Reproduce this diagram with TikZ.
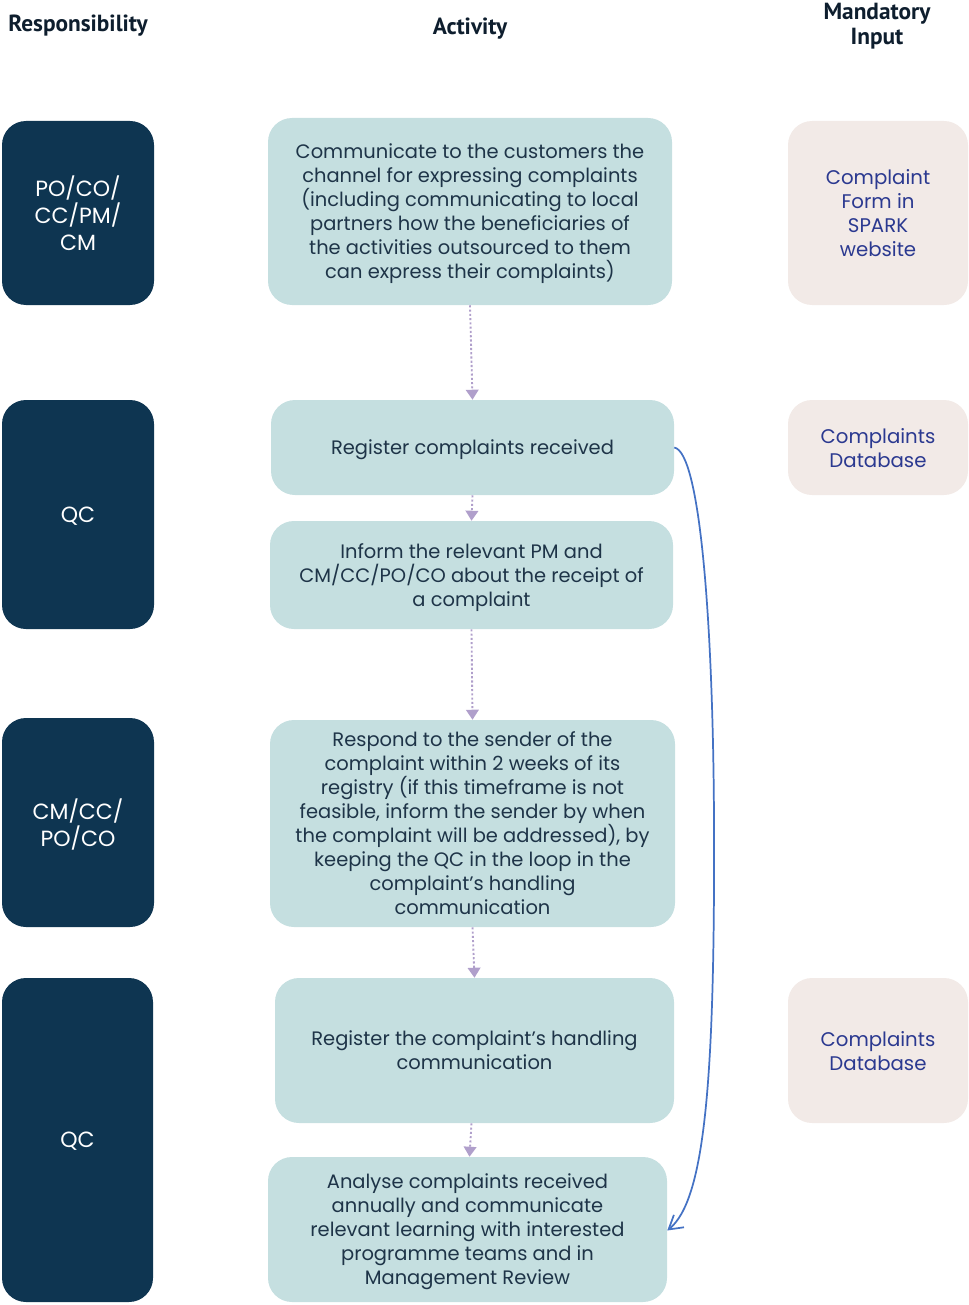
\documentclass[tikz,border=0pt]{standalone}
\usepackage{fontspec}
\setmainfont{Poppins}
\newfontfamily\headfont{PT Sans}
\usetikzlibrary{arrows.meta}
\definecolor{navy}{HTML}{0E3551}
\definecolor{teal}{HTML}{C5DFE0}
\definecolor{beige}{HTML}{F2EAE7}
\definecolor{midtext}{HTML}{1E3448}
\definecolor{headtext}{HTML}{0E1E2E}
\definecolor{righttext}{HTML}{2B3990}
\definecolor{dotarrow}{HTML}{B09FCB}
\definecolor{curveblue}{HTML}{4472C4}
\tikzset{
  rolebox/.style={rectangle, rounded corners=18pt, fill=navy, draw=none, text=white, align=center, text depth=0pt, font=\fontsize{16.5}{20}\selectfont},
  actbox/.style={rectangle, rounded corners=18pt, fill=teal, draw=none, text=midtext, align=center, text depth=0pt, font=\fontsize{14.6}{18}\selectfont},
  inbox/.style={rectangle, rounded corners=18pt, fill=beige, draw=none, text=righttext, align=center, text depth=0pt, font=\fontsize{14.8}{18}\selectfont},
  head/.style={text=headtext, align=center, font=\headfont\bfseries\fontsize{17.5}{18.5}\selectfont},
  flow/.style={dotarrow, line width=1.4pt, dash pattern=on 1.6pt off 1.6pt, -{Triangle[width=9.5pt,length=7.5pt]}},
  loop/.style={curveblue, line width=1.3pt, -{Straight Barb[width=12pt,length=10pt]}}
}
\begin{document}
\begin{tikzpicture}[x=0.75pt,y=-0.75pt]
\useasboundingbox (0,0) rectangle (969,1305);
% headers
\node[head] (h1) at (78,26) {Responsibility};
\node[head] (h2) at (470,29) {Activity};
\node[head] (h3) at (877,26) {Mandatory\\Input};
% responsibility
\node[rolebox, minimum width=152*0.75pt, minimum height=184*0.75pt] (r1) at (78,213) {PO/CO/\\CC/PM/\\CM};
\node[rolebox, minimum width=152*0.75pt, minimum height=229*0.75pt] (r2) at (78,514.5) {QC};
\node[rolebox, minimum width=152*0.75pt, minimum height=209*0.75pt] (r3) at (78,822.5) {CM/CC/\\PO/CO};
\node[rolebox, minimum width=151*0.75pt, minimum height=324*0.75pt] (r4) at (77.5,1140) {QC};
% activities
\node[actbox, minimum width=404*0.75pt, minimum height=187*0.75pt] (a1) at (470,211.5) {Communicate to the customers the\\channel for expressing complaints\\(including communicating to local\\partners how the beneficiaries of\\the activities outsourced to them\\can express their complaints)};
\node[actbox, minimum width=403*0.75pt, minimum height=95*0.75pt] (a2) at (472.5,447.5) {Register complaints received};
\node[actbox, minimum width=403*0.75pt, minimum height=108*0.75pt] (a3) at (471.5,575) {Inform the relevant PM and\\CM/CC/PO/CO about the receipt of\\a complaint};
\node[actbox, minimum width=405*0.75pt, minimum height=207*0.75pt] (a4) at (472.5,823.5) {Respond to the sender of the\\complaint within 2 weeks of its\\registry (if this timeframe is not\\feasible, inform the sender by when\\the complaint will be addressed), by\\keeping the QC in the loop in the\\complaint's handling\\communication};
\node[actbox, minimum width=399*0.75pt, minimum height=145*0.75pt] (a5) at (474.5,1050.5) {Register the complaint's handling\\communication};
\node[actbox, minimum width=399*0.75pt, minimum height=145*0.75pt] (a6) at (467.5,1229.5) {Analyse complaints received\\annually and communicate\\relevant learning with interested\\programme teams and in\\Management Review};
% inputs
\node[inbox, minimum width=180*0.75pt, minimum height=184*0.75pt] (i1) at (878,213) {Complaint\\Form in\\SPARK\\website};
\node[inbox, minimum width=180*0.75pt, minimum height=95*0.75pt] (i2) at (878,447.5) {Complaints\\Database};
\node[inbox, minimum width=180*0.75pt, minimum height=145*0.75pt] (i3) at (878,1050.5) {Complaints\\Database};
% flow arrows
\draw[flow] (a1.south) -- (a2.north);
\draw[flow] (a2.south) -- (a3.north);
\draw[flow] (a3.south) -- (a4.north);
\draw[flow] (a4.south) -- (a5.north);
\draw[flow] ([xshift=-3*0.75pt]a5.south) -- ([xshift=2*0.75pt]a6.north);
% loop connector
\draw[loop] (a2.east) .. controls (700,452) and (713,620) .. (714,820) .. controls (715,1080) and (705,1200) .. ([yshift=-1*0.75pt]a6.east);
\end{tikzpicture}
\end{document}
